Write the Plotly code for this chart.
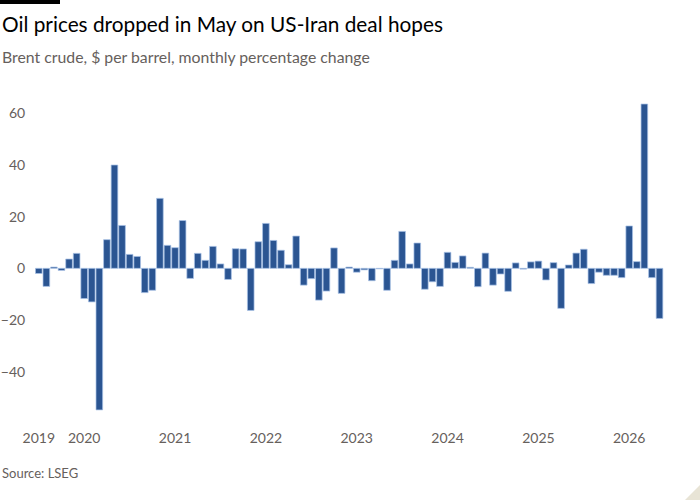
import plotly.graph_objects as go
import pandas as pd

# Monthly % change in Brent crude, Jul 2019 - May 2026
months = [d.strftime("%Y-%m") for d in pd.date_range("2019-07-01", "2026-05-01", freq="MS")]
pct_change = [
    -2, -7, 0.5, -0.8, 3.6, 5.8,
    -11.7, -13, -54.8, 11.1, 40, 16.6, 5.4, 4.6, -9.4, -8.5, 27.1, 8.9,
    8, 18.5, -3.9, 5.8, 3.1, 8.5, 1.7, -4.3, 7.6, 7.5, -16.3, 10.3,
    17.4, 10.8, 7.0, 1.4, 12.5, -6.5, -4, -12.3, -8.8, 7.9, -9.7, 0.5,
    -1.5, -0.6, -4.8, -0.2, -8.5, 3.1, 14.3, 1.7, 9.8, -8.1, -5.2, -7,
    6.2, 2.3, 4.8, 0.4, -7.1, 5.9, -6.5, -2.2, -8.9, 2.1, -0.3, 2.5,
    2.8, -4.5, 2.2, -15.5, 1.3, 5.9, 7.4, -5.9, -1.5, -2.7, -2.7, -3.6,
    16.4, 2.6, 63.6, -3.6, -19.4,
]
tick_months = ["2019-07", "2020-01", "2021-01", "2022-01", "2023-01", "2024-01", "2025-01", "2026-01"]
tick_labels = ["2019", "2020", "2021", "2022", "2023", "2024", "2025", "2026"]
y_ticks = [-40, -20, 0, 20, 40, 60]

W, H = 700, 500
ML, MR, MT, MB = 35, 14, 103, 87
PW, PH = W - ML - MR, H - MT - MB
FONT = "Lato"
GREY = "#66605c"

def px(x):
    return (x - ML) / PW

def py(y):
    return (H - MB - y) / PH

fig = go.Figure()
fig.add_trace(go.Bar(
    x=months, y=pct_change,
    marker=dict(color="#2b5592", line=dict(color="rgba(170,195,232,0.9)", width=0.8)),
    hoverinfo="x+y",
))

fig.update_layout(
    width=W, height=H,
    margin=dict(l=ML, r=MR, t=MT, b=MB, pad=0, autoexpand=False),
    paper_bgcolor="white", plot_bgcolor="white",
    bargap=0.12,
    showlegend=False,
    font=dict(family=FONT, color=GREY, size=14),
    xaxis=dict(
        type="category", range=[-0.5, 85.5], automargin=False,
        tickmode="array", tickvals=tick_months, ticktext=tick_labels,
        showgrid=False, zeroline=False, showline=False,
        ticks="outside", ticklen=12, tickcolor="rgba(0,0,0,0)",
        tickfont=dict(size=14, color=GREY),
    ),
    yaxis=dict(
        range=[-56, 64], automargin=False,
        tickmode="array", tickvals=y_ticks,
        showgrid=False, zeroline=False, showline=False,
        ticks="outside", ticklen=6, tickcolor="rgba(0,0,0,0)",
        tickfont=dict(size=14, color=GREY),
    ),
    annotations=[
        dict(text="Oil prices dropped in May on US-Iran deal hopes", xref="paper", yref="paper",
             x=px(0), y=py(24), xanchor="left", yanchor="middle", showarrow=False,
             font=dict(family=FONT, size=20.8, color="#000000")),
        dict(text="Brent crude, $ per barrel, monthly percentage change", xref="paper", yref="paper",
             x=px(0), y=py(57), xanchor="left", yanchor="middle", showarrow=False,
             font=dict(family=FONT, size=15.8, color=GREY)),
        dict(text="Source: LSEG", xref="paper", yref="paper",
             x=px(0), y=py(473), xanchor="left", yanchor="middle", showarrow=False,
             font=dict(family=FONT, size=13, color=GREY)),
    ],
    shapes=[
        dict(type="rect", xref="paper", yref="paper", x0=px(0), x1=px(60), y0=py(0), y1=py(4),
             fillcolor="#000000", line=dict(width=0)),
        dict(type="path", xref="paper", yref="paper",
             path=f"M {px(700)} {py(500)} L {px(700)} {py(485)} L {px(685)} {py(500)} Z",
             fillcolor="#e8e4d6", line=dict(width=0)),
    ],
)

fig.write_html("out.html")
